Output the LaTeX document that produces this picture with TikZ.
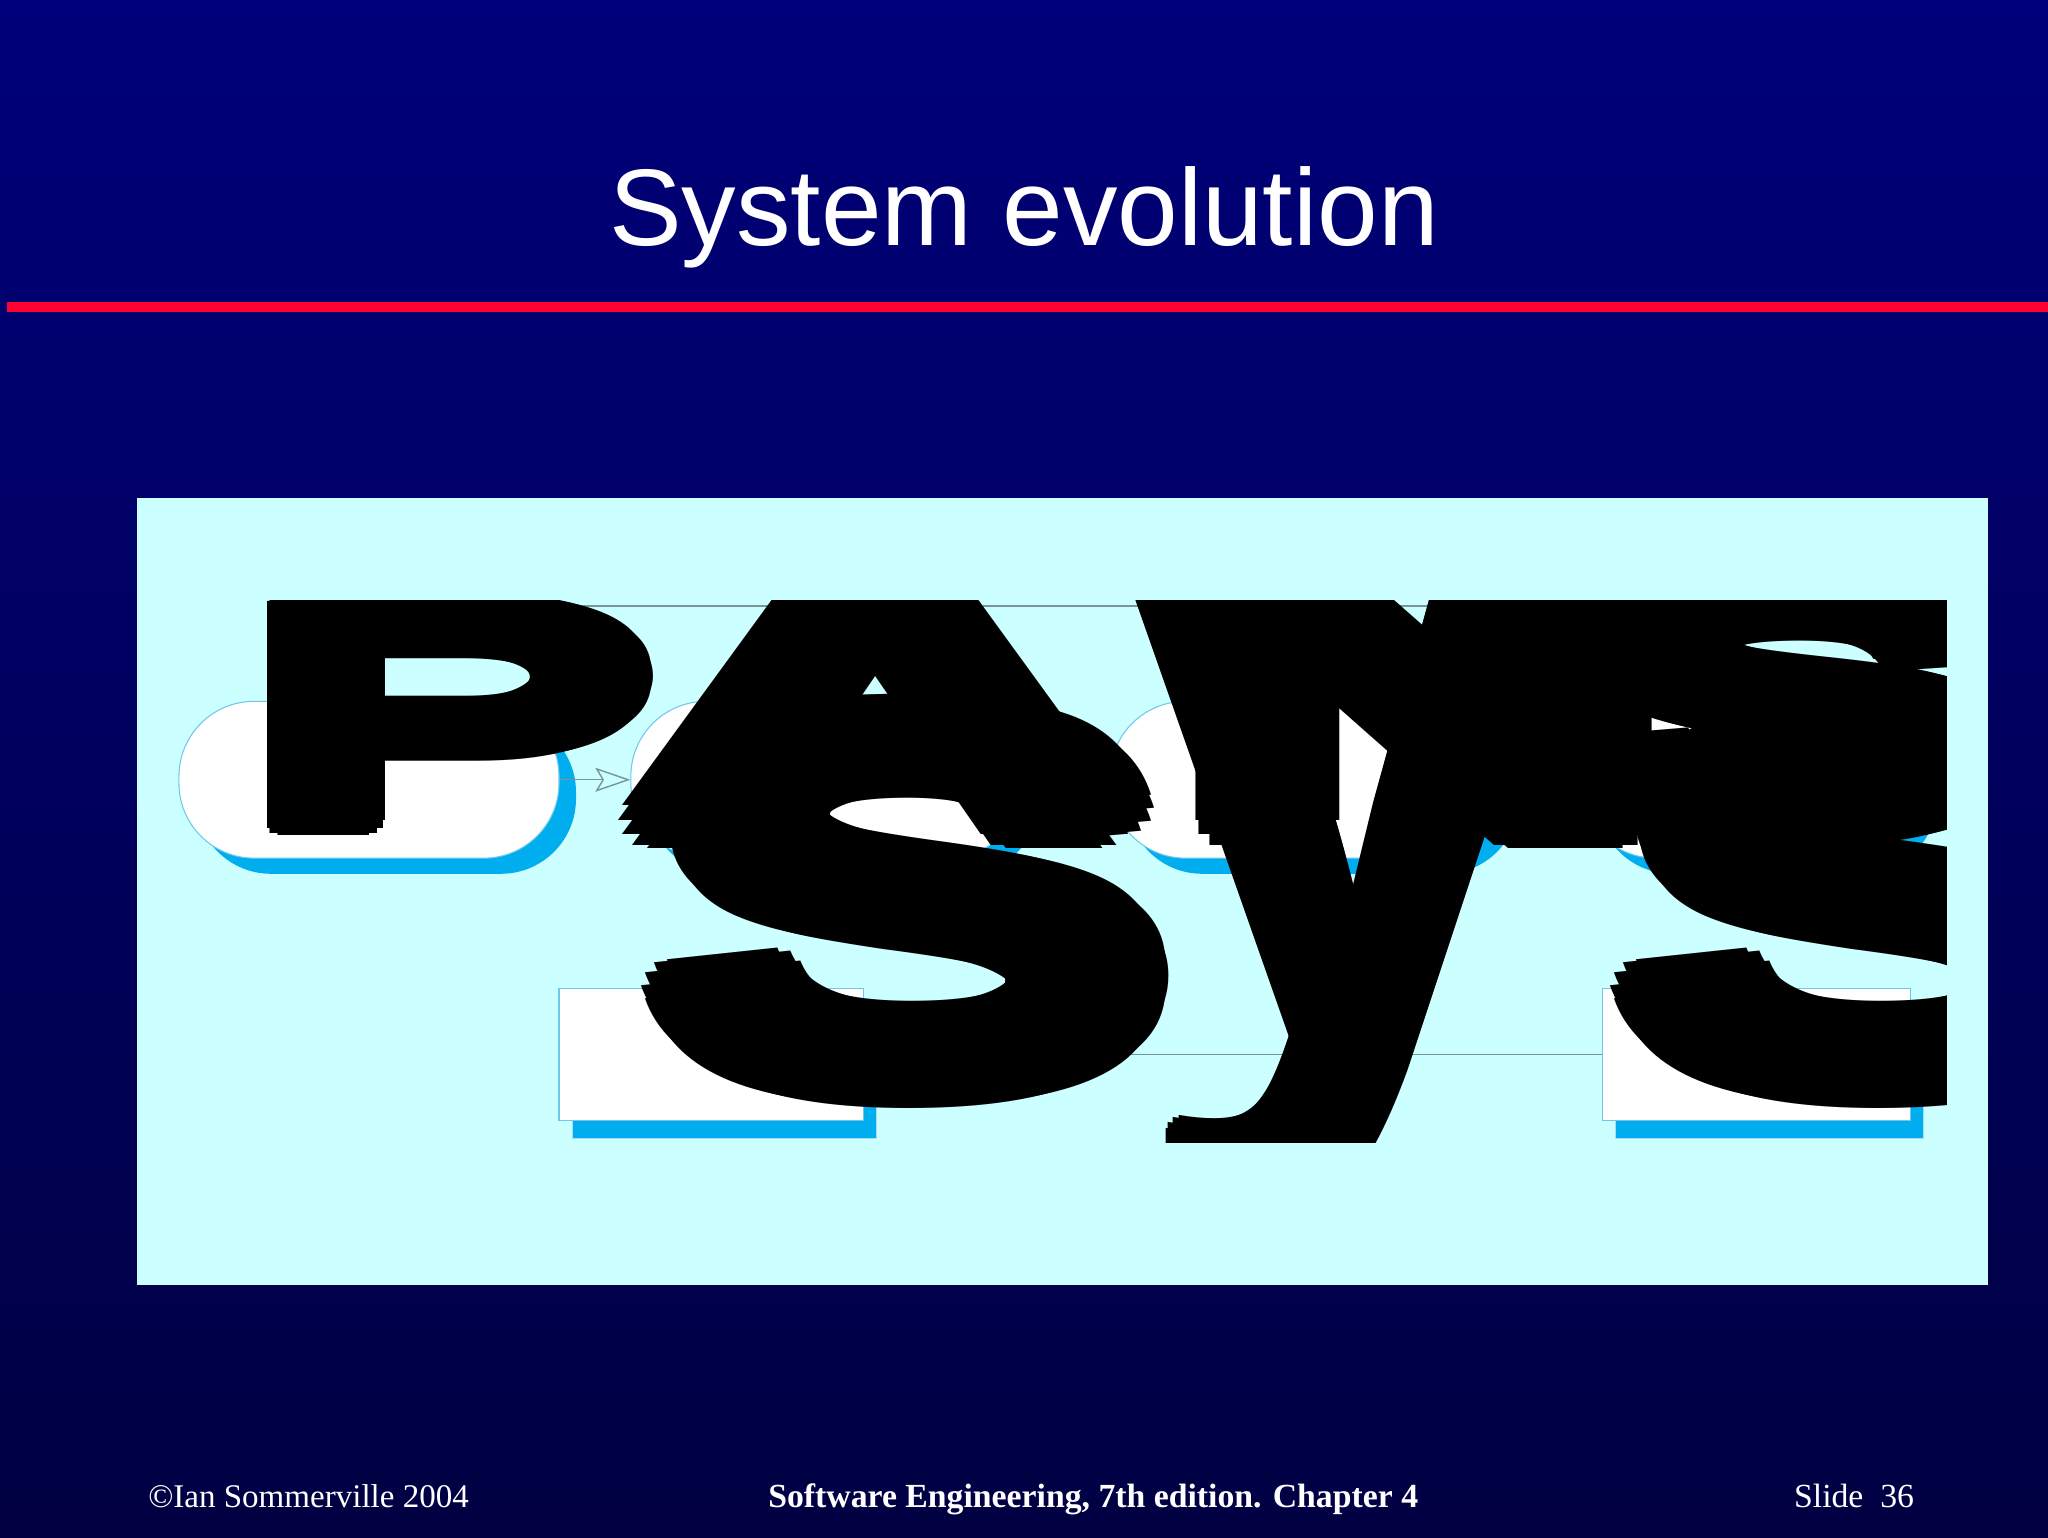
\documentclass[tikz,border=0pt]{standalone}
\usepackage{fontspec}
\newfontfamily\slidesans{Liberation Sans}
\newfontfamily\slideserif{Liberation Serif}
\usetikzlibrary{arrows.meta, shadows}

\definecolor{slidetop}{RGB}{0,0,122}
\definecolor{slidebot}{RGB}{0,0,66}
\definecolor{rulered}{RGB}{255,0,51}
\definecolor{panelcyan}{RGB}{204,255,255}
\definecolor{shadowblue}{RGB}{0,174,239}
\definecolor{edgeblue}{RGB}{110,200,235}
\definecolor{linegray}{RGB}{120,150,150}

\newcommand{\un}{0.013061cm}
% one oversized letter: size, horizontal stretch, letter
\newcommand{\bigglyph}[3]{\scalebox{#2}[1]{\fontsize{#1}{#1}\slidesans\bfseries #3}}

\tikzstyle{process} = [draw=edgeblue, fill=white, line width=0.3pt, rounded corners=0.75cm,
	minimum height=120*\un,
	general shadow={shadow xshift=13*\un, shadow yshift=-12*\un, fill=shadowblue}]
\tikzstyle{sysbox} = [draw=edgeblue, fill=white, line width=0.3pt, minimum height=101*\un,
	general shadow={shadow xshift=10*\un, shadow yshift=-14*\un, fill=shadowblue, draw=edgeblue!60}]
\tikzstyle{flowarrow} = [draw=linegray, line width=0.4pt,
	-{Stealth[open, length=0.35cm, width=0.24cm, inset=0.07cm]}]
\tikzstyle{hugetext} = [inner sep=0pt, text=black, anchor=base west]
\tikzstyle{foottext} = [inner sep=0pt, text=white, anchor=base]

\begin{document}
\begin{tikzpicture}[x=0.013061cm, y=-0.013061cm]
	\useasboundingbox (0,0) rectangle (1568,1177);
	\shade[top color=slidetop, bottom color=slidebot] (0,0) rectangle (1568,1177);
	
	% title and rule
	\node[anchor=base, text=white, font=\fontsize{31pt}{31pt}\slidesans] (title) at (784,188) {System evolution};
	\draw[rulered, line width=2.6pt] (5,235) -- (1568,235);
	
	% diagram panel
	\fill[panelcyan] (105,381) rectangle (1522,984);
	
	\node[process, minimum width=291*\un] (define) at (282.5,597) {};
	\node[process, minimum width=300*\un] (assess) at (633,597) {};
	\node[process, minimum width=300*\un] (propose) at (1000,597) {};
	\node[process, minimum width=260*\un] (modify) at (1340,597) {};
	
	\node[sysbox, minimum width=233*\un] (existing) at (544.5,807.5) {};
	\node[sysbox, minimum width=236*\un] (newsys) at (1345,807.5) {};
	
	\draw[flowarrow] (define.east) -- (assess.west);
	\draw[flowarrow] (assess.east) -- (propose.west);
	\draw[flowarrow] (propose.east) -- (modify.west);
	\draw[linegray, line width=0.4pt] (existing.east) -- (newsys.west);
	\coordinate (topleft) at (300,464);
	\coordinate (topright) at (1146,464);
	\draw[linegray, line width=0.4pt] (topleft) -- (topright);
	
	% oversized label glyphs, thickened by offset copies
	\begin{scope}
		\clip (205,460) rectangle (1490,875);
		\foreach \gx/\gy/\gsize/\gs/\gw/\gl [count=\i] in {
			180/628/87.3pt/2.07/12/P, 482/628/96.6pt/2.0/22/A,
			902/628/96.6pt/2.0/22/N, 1205/628/96.6pt/2.0/18/S,
			493/825/145.7pt/1.55/20/S, 873/797/241.5pt/0.88/10/y,
			1235/825/145.7pt/1.55/20/S} {
			\foreach \ang in {0,30,...,330}
				\node[hugetext] at ([shift={(\ang:\gw)}]\gx,\gy) {\bigglyph{\gsize}{\gs}{\gl}};
			\node[hugetext] (glyph-\i) at (\gx,\gy) {\bigglyph{\gsize}{\gs}{\gl}};
		}
	\end{scope}
	
	% footer
	\node[foottext, anchor=base west, font=\fontsize{9.4pt}{9.4pt}\slideserif] (copyright) at (113,1154) {\textcopyright Ian Sommerville 2004};
	\node[foottext, font=\fontsize{9.6pt}{9.6pt}\slideserif\bfseries] (book) at (837,1154) {Software Engineering, 7th edition. Chapter 4};
	\node[foottext, anchor=base east, font=\fontsize{9.6pt}{9.6pt}\slideserif] (slideno) at (1466,1154) {Slide\ \ 36};
\end{tikzpicture}
\end{document}
